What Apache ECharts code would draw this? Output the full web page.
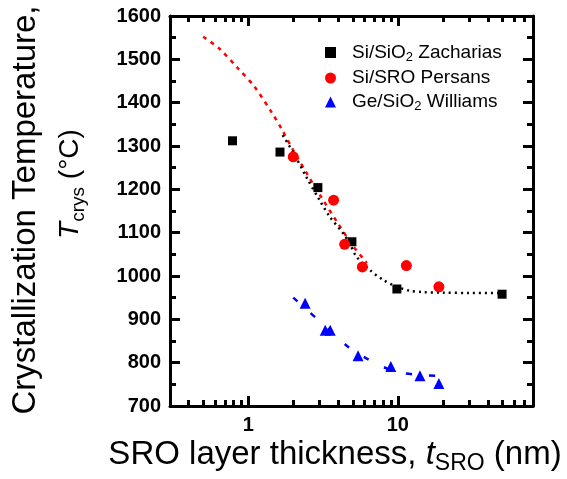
<!DOCTYPE html>
<html>
<head>
<meta charset="utf-8">
<script src="https://cdn.jsdelivr.net/npm/echarts@6/dist/echarts.min.js"></script>
<style>html,body{margin:0;padding:0;background:#fff}#c{width:567px;height:479px}</style>
</head>
<body>
<div id="c"></div>
<script>
const zachX = [0.785, 1.63, 2.92, 4.93, 9.85, 49.7];
const zachY = [1312, 1286, 1204, 1079, 970, 958];
const persX = [2.0, 3.72, 4.41, 5.79, 11.4, 18.8];
const persY = [1275, 1175, 1073, 1021, 1024, 975];
const willX = [2.4, 3.27, 3.53, 5.42, 8.97, 14.05, 18.8];
const willY = [937, 875, 875, 816, 791, 770, 752];

const zachFitX = [1.7, 2.0, 2.44, 3.0, 3.5, 4.3, 4.76, 5.28, 6.49, 7.97, 9.85, 12, 14.7, 20, 30, 48];
const zachFitY = [1325, 1285, 1229, 1175, 1137, 1099, 1075, 1045, 1014, 991, 975, 966, 963, 961.5, 961, 961];
const persFitX = [0.5, 0.64, 0.85, 1.1, 1.45, 1.66, 2.0, 2.5, 3.0, 4.0, 5.0, 6.2];
const persFitY = [1552, 1525, 1480, 1437, 1375, 1341, 1290, 1233, 1188, 1120, 1070, 1030];
const willFitX = [2.0, 2.82, 3.5, 4.64, 6.16, 8.0, 10.0, 14.7, 18.6];
const willFitY = [950, 904, 875, 837, 810, 790, 778, 771, 770];

const xMajorLabels = [1, 10];
const xMinorTicks = [0.4, 0.5, 0.6, 0.7, 0.8, 0.9, 2, 3, 4, 5, 6, 7, 8, 9, 20, 30, 40, 50, 60, 70];
const xMin = 0.3, xMax = 80;
const yMin = 700, yMax = 1600, yStep = 100;

const seriesNames = ['Si/SiO2 Zacharias', 'Si/SRO Persans', 'Ge/SiO2 Williams'];

const pairs = (xs, ys) => xs.map((x, i) => [x, ys[i]]);
const FONT = '"Liberation Sans", Arial, sans-serif';
const TICKC = '#000';

const chart = echarts.init(document.getElementById('c'), null, {renderer: 'canvas'});

const frameLine = () => ({show: true, onZero: false, lineStyle: {color: '#000', width: 3}});
const tickY = () => ({show: true, inside: true, length: 10, lineStyle: {color: TICKC, width: 3}});
const minorY = () => ({show: true, splitNumber: 2, length: 6, lineStyle: {color: TICKC, width: 3}});
const tickX = () => ({show: true, inside: true, length: 10, customValues: xMajorLabels, lineStyle: {color: TICKC, width: 3}});
const minorX = () => ({show: true, inside: true, length: 6, customValues: xMinorTicks, lineStyle: {color: TICKC, width: 3}});

const option = {
  backgroundColor: '#fff',
  animation: false,
  grid: {left: 170, right: 34, top: 16, bottom: 73, containLabel: false},
  xAxis: [
    {type: 'log', logBase: 10, min: xMin, max: xMax, position: 'bottom',
     axisLine: frameLine(), axisTick: tickX(), splitLine: {show: false}, minorTick: {show: false},
     axisLabel: {show: true, margin: 9, color: '#000', fontSize: 20, fontWeight: 'bold', fontFamily: FONT,
       formatter: v => { for (const m of xMajorLabels) { if (Math.abs(v - m) < 1e-6 * m) return String(m); } return ''; }}},
    {type: 'log', logBase: 10, min: xMin, max: xMax, position: 'top',
     axisLine: frameLine(), axisTick: tickX(), splitLine: {show: false}, axisLabel: {show: false}},
    {type: 'log', logBase: 10, min: xMin, max: xMax, position: 'bottom',
     axisLine: {show: false}, axisTick: minorX(), splitLine: {show: false}, axisLabel: {show: false}},
    {type: 'log', logBase: 10, min: xMin, max: xMax, position: 'top',
     axisLine: {show: false}, axisTick: minorX(), splitLine: {show: false}, axisLabel: {show: false}}
  ],
  yAxis: [
    {type: 'value', min: yMin, max: yMax, interval: yStep, position: 'left',
     axisLine: frameLine(), axisTick: tickY(), minorTick: minorY(), splitLine: {show: false},
     axisLabel: {margin: 9, color: '#000', fontSize: 20, fontWeight: 'bold', fontFamily: FONT, formatter: v => String(v)}},
    {type: 'value', min: yMin, max: yMax, interval: yStep, position: 'right',
     axisLine: frameLine(), axisTick: tickY(), minorTick: minorY(), splitLine: {show: false}, axisLabel: {show: false}}
  ],
  legend: {
    orient: 'vertical', left: 320, top: 38, itemWidth: 11, itemHeight: 11, itemGap: 5,
    data: seriesNames,
    formatter: name => {
      if (name === seriesNames[0]) return '{a|Si/SiO}{s|2}{b| Zacharias}';
      if (name === seriesNames[1]) return '{a|Si/SRO Persans}';
      return '{a|Ge/SiO}{s|2}{b| Williams}';
    },
    textStyle: {color: '#000', fontFamily: FONT, fontSize: 19,
      rich: {
        a: {fontSize: 19, fontFamily: FONT, color: '#000', lineHeight: 22, padding: [0, 0, 0, 11]},
        b: {fontSize: 19, fontFamily: FONT, color: '#000', lineHeight: 22},
        s: {fontSize: 13, fontFamily: FONT, color: '#000', lineHeight: 12, verticalAlign: 'bottom'}
      }}
  },
  graphic: [
    {type: 'text', x: 26, y: 210, rotation: Math.PI / 2, silent: true,
     style: {text: 'Crystallization Temperature,', fontSize: 33, fontFamily: FONT, fill: '#000',
       textAlign: 'center', align: 'center', textVerticalAlign: 'middle', verticalAlign: 'middle'}},
    {type: 'text', x: 70, y: 184, rotation: Math.PI / 2, silent: true,
     style: {text: '{i|T}{s|crys}{n| (°C)}', fill: '#000', fontFamily: FONT, fontSize: 28,
       textAlign: 'center', align: 'center', textVerticalAlign: 'middle', verticalAlign: 'middle',
       rich: {
         i: {fontSize: 28, fontStyle: 'italic', fontFamily: FONT, fill: '#000', lineHeight: 36},
         n: {fontSize: 28, fontFamily: FONT, fill: '#000', lineHeight: 36},
         s: {fontSize: 19, fontFamily: FONT, fill: '#000', lineHeight: 18, verticalAlign: 'bottom'}
       }}},
    {type: 'text', x: 335, y: 455, silent: true,
     style: {text: '{n|SRO layer thickness, }{i|t}{s|SRO}{n| (nm)}', fill: '#000', fontFamily: FONT, fontSize: 33,
       textAlign: 'center', align: 'center', textVerticalAlign: 'middle', verticalAlign: 'middle',
       rich: {
         i: {fontSize: 33, fontStyle: 'italic', fontFamily: FONT, fill: '#000', lineHeight: 40},
         n: {fontSize: 33, fontFamily: FONT, fill: '#000', lineHeight: 40},
         s: {fontSize: 23, fontFamily: FONT, fill: '#000', lineHeight: 20, verticalAlign: 'bottom'}
       }}}
  ],
  series: [
    {type: 'line', name: 'fitPers', data: pairs(persFitX, persFitY), smooth: 0.3, symbol: 'none', z: 3,
     lineStyle: {color: '#ff0000', width: 2.5, type: [4, 5], cap: 'butt'}},
    {type: 'line', name: 'fitZach', data: pairs(zachFitX, zachFitY), smooth: 0.3, symbol: 'none', z: 3,
     lineStyle: {color: '#000', width: 2.5, type: [2, 4], cap: 'butt'}},
    {type: 'line', name: 'fitWill', data: pairs(willFitX, willFitY), smooth: 0.3, symbol: 'none', z: 3,
     lineStyle: {color: '#0000ff', width: 2.5, type: [6, 17], cap: 'butt'}},
    {type: 'scatter', name: seriesNames[0], data: pairs(zachX, zachY), symbol: 'rect', symbolSize: 9, z: 4,
     itemStyle: {color: '#000', opacity: 1}},
    {type: 'scatter', name: seriesNames[1], data: pairs(persX, persY), symbol: 'circle', symbolSize: 11, z: 4,
     itemStyle: {color: '#ff0000', opacity: 1}},
    {type: 'scatter', name: seriesNames[2], data: pairs(willX, willY), symbol: 'triangle', symbolSize: 11, z: 4,
     itemStyle: {color: '#0000ff', opacity: 1}}
  ]
};
chart.setOption(option);
</script>
</body>
</html>
